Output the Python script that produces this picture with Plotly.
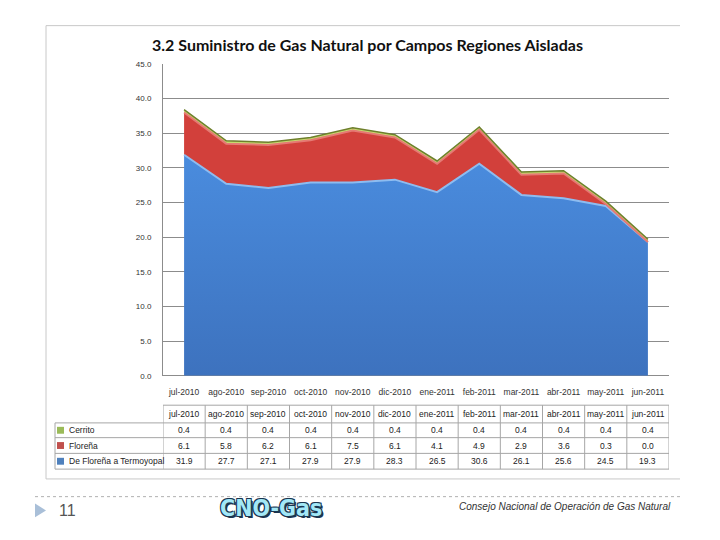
import plotly.graph_objects as go

# ---------------- data ----------------
months = ["jul-2010", "ago-2010", "sep-2010", "oct-2010", "nov-2010", "dic-2010",
          "ene-2011", "feb-2011", "mar-2011", "abr-2011", "may-2011", "jun-2011"]
termoyopal = [31.9, 27.7, 27.1, 27.9, 27.9, 28.3, 26.5, 30.6, 26.1, 25.6, 24.5, 19.3]
florena = [6.1, 5.8, 6.2, 6.1, 7.5, 6.1, 4.1, 4.9, 2.9, 3.6, 0.3, 0.0]
cerrito = [0.4, 0.4, 0.4, 0.4, 0.4, 0.4, 0.4, 0.4, 0.4, 0.4, 0.4, 0.4]
series_names = ["Cerrito", "Floreña", "De Floreña a Termoyopal"]
title_text = "3.2 Suministro de Gas Natural por Campos Regiones Aisladas"
footer_text = "Consejo Nacional de Operación de Gas Natural"
page_number = "11"
logo_text = "CNO-Gas"

W, H = 720, 540


def px(x):
    return x / W


def py(y):
    return 1 - y / H


TXT = "Liberation Sans, Arial, sans-serif"
fig = go.Figure()

# stacked areas (bottom to top)
fig.add_trace(go.Scatter(
    x=months, y=termoyopal, name=series_names[2], stackgroup="one",
    mode="lines", line=dict(color="#8DBCF0", width=2),
    fillcolor="#4483D6",
    fillgradient=dict(type="vertical",
                      colorscale=[[0, "#3D72BE"], [1, "#4A8CDE"]]),
))
fig.add_trace(go.Scatter(
    x=months, y=florena, name=series_names[1], stackgroup="one",
    mode="lines", line=dict(color="#E57A74", width=2),
    fillcolor="#D2403B",
))
fig.add_trace(go.Scatter(
    x=months, y=cerrito, name=series_names[0], stackgroup="one",
    mode="lines", line=dict(color="#6E7F2C", width=1.5),
    fillcolor="#C5DA6E",
))

shapes = []
annotations = []

# chart frame (left, top, bottom)
frame_col = "#C8C8C8"
shapes.append(dict(type="line", xref="paper", yref="paper", x0=px(46), x1=px(46),
                   y0=py(22), y1=py(483), line=dict(color=frame_col, width=1)))
shapes.append(dict(type="line", xref="paper", yref="paper", x0=px(46), x1=px(680),
                   y0=py(22), y1=py(22), line=dict(color=frame_col, width=1)))
shapes.append(dict(type="line", xref="paper", yref="paper", x0=px(46), x1=px(680),
                   y0=py(483), y1=py(483), line=dict(color=frame_col, width=1)))

# title
annotations.append(dict(text="<b>" + title_text + "</b>", xref="paper", yref="paper",
                        x=px(367), y=py(41), showarrow=False,
                        font=dict(family="Lato, sans-serif", size=16, color="#111111"),
                        xanchor="center", yanchor="middle"))

# ---------------- data table ----------------
tb_col = "#A6A6A6"
row_edges = [408, 426, 441, 457, 473]
tab_left = 55
tab_right = 669
n = len(months)
# horizontal lines
shapes.append(dict(type="line", xref="x", yref="paper", x0=-0.5, x1=n - 0.5,
                   y0=py(row_edges[0]), y1=py(row_edges[0]), line=dict(color=tb_col, width=1)))
for ye in row_edges[1:]:
    shapes.append(dict(type="line", xref="paper", yref="paper", x0=px(tab_left), x1=px(tab_right),
                       y0=py(ye), y1=py(ye), line=dict(color=tb_col, width=1)))
# vertical lines
for i in range(n + 1):
    shapes.append(dict(type="line", xref="x", yref="paper", x0=i - 0.5, x1=i - 0.5,
                       y0=py(row_edges[0]), y1=py(row_edges[-1]), line=dict(color=tb_col, width=1)))
shapes.append(dict(type="line", xref="paper", yref="paper", x0=px(tab_left), x1=px(tab_left),
                   y0=py(row_edges[1]), y1=py(row_edges[-1]), line=dict(color=tb_col, width=1)))

tfont = dict(family=TXT, size=8.5, color="#222222")
hdr_y = (row_edges[0] + row_edges[1]) / 2
for i, m in enumerate(months):
    annotations.append(dict(text=m, xref="x", yref="paper", x=i, y=py(hdr_y),
                            showarrow=False, font=tfont, xanchor="center", yanchor="middle"))

rows = [(series_names[0], cerrito, "#9BBB59"),
        (series_names[1], florena, "#C0504D"),
        (series_names[2], termoyopal, "#4F81BD")]
for r, (name, vals, col) in enumerate(rows):
    yc = (row_edges[r + 1] + row_edges[r + 2]) / 2
    shapes.append(dict(type="rect", xref="paper", yref="paper",
                       x0=px(57), x1=px(64), y0=py(yc - 3.5), y1=py(yc + 3.5),
                       fillcolor=col, line=dict(width=0)))
    annotations.append(dict(text=name, xref="paper", yref="paper", x=px(67), y=py(yc),
                            showarrow=False, font=tfont, xanchor="left", yanchor="middle"))
    for i, v in enumerate(vals):
        annotations.append(dict(text=f"{v:.1f}", xref="x", yref="paper", x=i, y=py(yc),
                                showarrow=False, font=tfont, xanchor="center", yanchor="middle"))

# ---------------- footer ----------------
shapes.append(dict(type="line", xref="paper", yref="paper", x0=px(35), x1=px(681),
                   y0=py(501), y1=py(501), line=dict(color="#B0B0B0", width=1, dash="3px,3px")))
shapes.append(dict(type="path", xref="paper", yref="paper",
                   path=f"M {px(35)},{py(508)} L {px(46)},{py(515)} L {px(35)},{py(522)} Z",
                   fillcolor="#A9BFD8", line=dict(width=0)))
annotations.append(dict(text=page_number, xref="paper", yref="paper", x=px(57), y=py(515),
                        showarrow=False, xanchor="left", yanchor="middle",
                        font=dict(family=TXT, size=16, color="#555555")))
annotations.append(dict(text="<b>" + logo_text + "</b>", xref="paper", yref="paper",
                        x=px(271), y=py(513), showarrow=False, xanchor="center", yanchor="middle",
                        font=dict(family="DejaVu Sans Condensed, sans-serif", size=23, color="#A3E8F7",
                                  shadow="-1px -1px 0 #1B3550, 1px -1px 0 #1B3550, -1px 1px 0 #1B3550, 1px 1px 0 #1B3550, 2px 2px 0 #1B3550")))
annotations.append(dict(text="<i>" + footer_text + "</i>", xref="paper", yref="paper",
                        x=px(673), y=py(511), showarrow=False, xanchor="right", yanchor="middle",
                        font=dict(family=TXT, size=10, color="#333333")))

fig.update_layout(
    width=W, height=H, margin=dict(l=0, r=0, t=0, b=0, pad=0),
    paper_bgcolor="white", plot_bgcolor="white", showlegend=False,
    xaxis=dict(type="category", categoryorder="array", categoryarray=months,
               range=[-0.5, n - 0.5], domain=[px(163), px(669)],
               showgrid=False, showline=False, zeroline=False, ticks="",
               tickfont=dict(family=TXT, size=8.5, color="#333333"), ticklabelstandoff=10,
               fixedrange=True),
    yaxis=dict(range=[0, 45], domain=[py(378), py(61)], dtick=5, tickformat=".1f",
               showgrid=True, gridcolor="#8C8C8C", gridwidth=1,
               showline=True, linecolor="#8C8C8C", linewidth=1,
               zeroline=True, zerolinecolor="#8C8C8C", zerolinewidth=1,
               ticks="", tickfont=dict(family=TXT, size=8, color="#333333"),
               ticklabelstandoff=9, fixedrange=True),
    shapes=shapes, annotations=annotations,
)

fig.write_html("out.html")
